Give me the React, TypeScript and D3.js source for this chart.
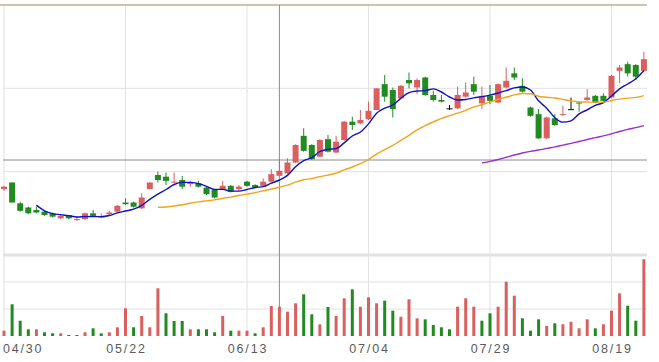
import * as d3 from "d3";

// daily candles, one per trading day, 04/30 .. 08/2x
const OPEN = [
  11.29, 11.37, 11.12, 11.07, 11.04, 11.02, 11.0, 10.94, 10.98, 10.92,
  10.93, 11.0, 10.95, 10.99, 11.02, 11.13, 11.13, 11.06, 11.29, 11.46,
  11.44, 11.37, 11.4, 11.35, 11.36, 11.31, 11.28, 11.29, 11.33, 11.29,
  11.38, 11.34, 11.33, 11.38, 11.45, 11.48, 11.61, 11.93, 11.82, 11.68,
  11.89, 11.73, 11.88, 12.1, 12.08, 12.13, 12.24, 12.55, 12.48, 12.38,
  12.6, 12.51, 12.63, 12.42, 12.36, 12.26, 12.26, 12.4, 12.55, 12.32,
  12.41, 12.33, 12.51, 12.68, 12.53, 12.27, 12.19, 11.9, 12.14, 12.18,
  12.25, 12.33, 12.36, 12.41, 12.41, 12.39, 12.71, 12.79, 12.78, 12.71,
];
const HIGH = [
  11.33, 11.37, 11.14, 11.08, 11.08, 11.03, 11.01, 10.98, 10.98, 10.96,
  11.01, 11.04, 11.0, 11.03, 11.1, 11.18, 11.14, 11.24, 11.37, 11.5,
  11.49, 11.49, 11.45, 11.39, 11.39, 11.32, 11.29, 11.39, 11.34, 11.34,
  11.39, 11.35, 11.42, 11.53, 11.65, 11.66, 11.83, 12.02, 11.83, 11.89,
  11.94, 11.93, 12.11, 12.16, 12.24, 12.34, 12.5, 12.66, 12.51, 12.54,
  12.69, 12.62, 12.64, 12.47, 12.42, 12.3, 12.52, 12.57, 12.64, 12.52,
  12.54, 12.56, 12.75, 12.75, 12.62, 12.28, 12.25, 12.16, 12.19, 12.29,
  12.39, 12.34, 12.49, 12.42, 12.44, 12.66, 12.78, 12.82, 12.79, 12.94,
];
const LOW = [
  11.27, 11.13, 11.02, 10.99, 11.0, 10.97, 10.95, 10.93, 10.93, 10.91,
  10.92, 10.96, 10.94, 10.97, 11.01, 11.1, 11.07, 11.05, 11.29, 11.37,
  11.34, 11.36, 11.29, 11.32, 11.31, 11.22, 11.18, 11.28, 11.25, 11.27,
  11.32, 11.3, 11.32, 11.37, 11.44, 11.47, 11.6, 11.74, 11.64, 11.67,
  11.73, 11.72, 11.87, 12.0, 12.07, 12.12, 12.24, 12.34, 12.15, 12.37,
  12.5, 12.43, 12.41, 12.34, 12.33, 12.24, 12.25, 12.39, 12.42, 12.25,
  12.31, 12.32, 12.5, 12.6, 12.45, 12.16, 11.89, 11.89, 12.05, 12.17,
  12.24, 12.22, 12.35, 12.32, 12.34, 12.38, 12.56, 12.64, 12.6, 12.7,
];
const CLOSE = [
  11.32, 11.13, 11.03, 11.0, 11.01, 10.98, 10.96, 10.97, 10.94, 10.93,
  11.0, 10.97, 10.96, 11.01, 11.09, 11.11, 11.08, 11.19, 11.37, 11.4,
  11.39, 11.38, 11.32, 11.37, 11.32, 11.23, 11.19, 11.33, 11.26, 11.32,
  11.33, 11.31, 11.38, 11.47, 11.51, 11.61, 11.82, 11.75, 11.65, 11.88,
  11.74, 11.86, 12.1, 12.06, 12.12, 12.23, 12.5, 12.4, 12.25, 12.53,
  12.56, 12.6, 12.42, 12.36, 12.34, 12.26, 12.42, 12.45, 12.46, 12.41,
  12.35, 12.55, 12.59, 12.63, 12.46, 12.17, 11.9, 12.15, 12.06, 12.19,
  12.25, 12.32, 12.39, 12.33, 12.35, 12.65, 12.75, 12.68, 12.64, 12.85,
];
const VOLUME = [
  530, 3170, 1530, 670, 670, 370, 270, 270, 100, 100,
  370, 770, 270, 370, 870, 2770, 870, 2000, 870, 4770,
  2270, 1500, 1500, 670, 670, 670, 370, 2000, 530, 530,
  530, 270, 870, 3000, 2930, 2430, 3270, 4170, 2170, 1170,
  2900, 2000, 3770, 4670, 2930, 3870, 3270, 3530, 2530, 1930,
  3670, 1770, 1670, 1100, 870, 670, 2930, 3770, 2930, 1530,
  2270, 2930, 5430, 4030, 1770, 530, 1670, 1000, 1270, 1170,
  1430, 770, 1670, 770, 1170, 2530, 4270, 3030, 1530, 7670,
];
const TICK_LABELS = ["04/30", "05/22", "06/13", "07/04", "07/29", "08/19"];
const TICK_EVERY = 15;
const MA_PERIODS = [5, 20, 60];
const CROSS_INDEX = 34;
const CROSS_PRICE = 11.64;

const UP = "#d9605f";
const DOWN = "#218a21";
const FLAT = "#111111";
const MA_COLORS = ["#1010c8", "#f5a21b", "#9a2fd0"];
const GRID = "#e2e2e2";

function movingAverage(values: number[], n: number) {
  const out: { i: number; v: number }[] = [];
  for (let i = n - 1; i < values.length; i++) {
    out.push({ i, v: d3.mean(values.slice(i - n + 1, i + 1)) as number });
  }
  return out;
}

export default function App() {
  const width = 659;
  const height = 362;
  const left = 3;
  const right = 647;
  const priceTop = 5;
  const priceBottom = 255;
  const volBottom = 336;

  const idx = d3.range(CLOSE.length);

  const x = d3
    .scalePoint<number>()
    .domain(idx)
    .range([4, 643.9]);

  const y = d3.scaleLinear().domain([10.5, 13.5]).range([priceBottom, priceTop]);
  const yVol = d3.scaleLinear().domain([0, 8100]).range([volBottom, priceBottom]);

  const bodyW = 6;
  const volW = 3;

  const candleColor = (i: number) =>
    CLOSE[i] > OPEN[i] ? UP : CLOSE[i] < OPEN[i] ? DOWN : FLAT;
  // volume bar colour follows the change against the previous close
  const volColor = (i: number) => {
    const prev = i === 0 ? OPEN[0] : CLOSE[i - 1];
    return CLOSE[i] >= prev ? UP : DOWN;
  };

  const priceGrid = d3.range(4).map((k) => 10.5 + k);
  const volGrid = [2700, 5400];
  const tickIdx = TICK_LABELS.map((_, k) => k * TICK_EVERY);

  const line = d3
    .line<{ i: number; v: number }>()
    .x((d) => x(d.i) as number)
    .y((d) => y(d.v))
    .curve(d3.curveMonotoneX);

  return (
    <svg
      width={width}
      height={height}
      style={{ position: "absolute", left: 0, top: 0, background: "#fff" }}
    >
      {/* vertical grid */}
      {tickIdx.map((i) => (
        <line
          key={"vg" + i}
          x1={x(i)}
          x2={x(i)}
          y1={priceTop}
          y2={volBottom}
          stroke={GRID}
          strokeWidth={1}
        />
      ))}
      {/* horizontal grid, price pane */}
      {priceGrid.map((p, k) => (
        <line
          key={"pg" + k}
          x1={k === 3 ? 0 : left}
          x2={right}
          y1={y(p)}
          y2={y(p)}
          stroke={k === 3 ? "#bab38f" : GRID}
          strokeWidth={k === 0 ? 3 : k === 3 ? 1.5 : 1}
        />
      ))}
      {volGrid.map((v) => (
        <line
          key={"volg" + v}
          x1={left}
          x2={right}
          y1={yVol(v)}
          y2={yVol(v)}
          stroke={GRID}
        />
      ))}

      {/* crosshair */}
      <line
        x1={x(CROSS_INDEX)}
        x2={x(CROSS_INDEX)}
        y1={priceTop}
        y2={volBottom}
        stroke="#8c8c8c"
      />
      <line
        x1={left}
        x2={right}
        y1={y(CROSS_PRICE)}
        y2={y(CROSS_PRICE)}
        stroke="#8c8c8c"
      />

      {/* volume */}
      {idx.map((i) => (
        <rect
          key={"v" + i}
          x={(x(i) as number) - volW / 2}
          y={yVol(VOLUME[i])}
          width={volW}
          height={volBottom - yVol(VOLUME[i])}
          fill={volColor(i)}
        />
      ))}

      {/* candles */}
      {idx.map((i) => {
        const cx = x(i) as number;
        const top = y(Math.max(OPEN[i], CLOSE[i]));
        const bot = y(Math.min(OPEN[i], CLOSE[i]));
        const c = candleColor(i);
        return (
          <g key={"c" + i}>
            <line
              x1={cx}
              x2={cx}
              y1={y(HIGH[i])}
              y2={y(LOW[i])}
              stroke={c}
              strokeWidth={1}
            />
            <rect
              x={cx - bodyW / 2}
              y={top}
              width={bodyW}
              height={Math.max(1, bot - top)}
              fill={c}
            />
          </g>
        );
      })}

      {/* moving averages */}
      {MA_PERIODS.map((n, k) => (
        <path
          key={"ma" + n}
          d={line(movingAverage(CLOSE, n)) || ""}
          fill="none"
          stroke={MA_COLORS[k]}
          strokeWidth={1.4}
        />
      ))}

      {/* date labels */}
      {TICK_LABELS.map((t, k) => (
        <text
          key={"t" + t}
          x={k === 0 ? 3 : (x(tickIdx[k]) as number) + 1}
          y={353}
          textAnchor={k === 0 ? "start" : "middle"}
          fontFamily="Arial, 'Liberation Sans', sans-serif"
          fontSize={12.5}
          letterSpacing={1.8}
          fill="#5a5a5a"
        >
          {t}
        </text>
      ))}
    </svg>
  );
}
